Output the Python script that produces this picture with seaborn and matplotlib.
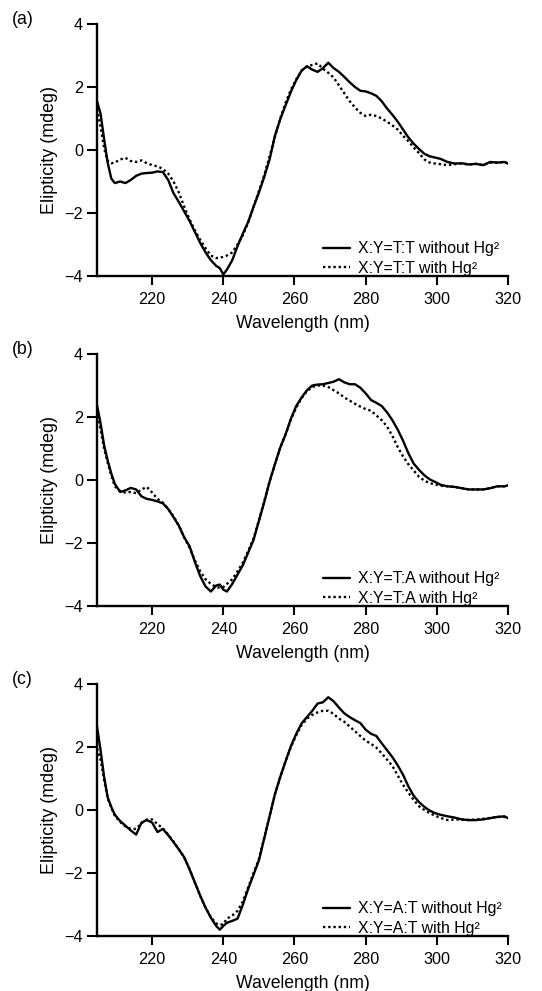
import numpy as np
import pandas as pd
import matplotlib
matplotlib.use("Agg")
import matplotlib.pyplot as plt
import seaborn as sns

sns.set_style("ticks")
plt.rcParams["font.family"] = ["Liberation Sans", "DejaVu Sans"]
plt.rcParams["axes.linewidth"] = 1.7
for key in ["text.color", "axes.labelcolor", "xtick.color", "ytick.color", "axes.edgecolor"]:
    plt.rcParams[key] = "black"

# wavelength grid (nm) shared by all curves
wavelength = [204.5, 205.5, 206.5, 207.5, 208.5, 209.5, 211, 212.5, 214, 215.5,
              217, 218.5, 220, 221.5, 223, 224.5, 226, 227.5, 229, 230.5,
              232, 233.5, 235, 236.5, 238, 239, 240, 241, 242.5, 244,
              245.5, 247, 248.5, 250, 251.5, 253, 254.5, 256, 257.5, 259,
              260.5, 262, 263.5, 265, 266.5, 268, 269.5, 271, 272.5, 274,
              275.5, 277, 278.5, 280, 281.5, 283, 284.5, 286, 287.5, 289,
              290.5, 292, 293.5, 295, 296.5, 298, 299.5, 301, 303, 305,
              307, 309, 311, 313, 315, 317, 319, 320]

tt_without = [1.55, 1.15, 0.35, -0.4, -0.9, -1.05, -1.0, -1.05, -0.95, -0.82,
              -0.75, -0.73, -0.72, -0.68, -0.7, -0.95, -1.37, -1.65, -1.95, -2.25,
              -2.6, -2.95, -3.25, -3.5, -3.68, -3.75, -3.95, -3.8, -3.5, -3.05,
              -2.65, -2.28, -1.8, -1.35, -0.85, -0.3, 0.45, 0.98, 1.42, 1.85,
              2.22, 2.52, 2.66, 2.55, 2.48, 2.6, 2.77, 2.6, 2.48, 2.32,
              2.15, 2.0, 1.88, 1.86, 1.8, 1.72, 1.55, 1.32, 1.12, 0.9,
              0.65, 0.4, 0.2, 0.03, -0.12, -0.2, -0.24, -0.28, -0.38, -0.43,
              -0.42, -0.46, -0.44, -0.48, -0.38, -0.4, -0.38, -0.43]
tt_with = [1.3, 0.75, 0.05, -0.35, -0.42, -0.4, -0.3, -0.25, -0.35, -0.38,
           -0.33, -0.42, -0.48, -0.52, -0.6, -0.75, -1.0, -1.35, -1.8, -2.2,
           -2.55, -2.85, -3.12, -3.35, -3.43, -3.42, -3.39, -3.35, -3.25, -3.0,
           -2.7, -2.3, -1.8, -1.3, -0.8, -0.2, 0.42, 1.0, 1.5, 1.92,
           2.25, 2.52, 2.65, 2.7, 2.75, 2.58, 2.45, 2.3, 2.05, 1.8,
           1.55, 1.35, 1.18, 1.08, 1.12, 1.08, 1.0, 0.9, 0.78, 0.65,
           0.45, 0.28, 0.08, -0.1, -0.3, -0.4, -0.43, -0.45, -0.48, -0.45,
           -0.43, -0.46, -0.44, -0.48, -0.4, -0.4, -0.38, -0.43]

ta_without = [2.38, 1.8, 1.1, 0.62, 0.21, -0.12, -0.38, -0.33, -0.25, -0.3,
              -0.52, -0.6, -0.63, -0.68, -0.74, -0.92, -1.18, -1.45, -1.82, -2.1,
              -2.6, -3.05, -3.38, -3.54, -3.35, -3.32, -3.48, -3.54, -3.3, -3.0,
              -2.7, -2.3, -1.9, -1.3, -0.7, -0.05, 0.5, 1.03, 1.45, 1.95,
              2.35, 2.62, 2.85, 3.0, 3.03, 3.04, 3.08, 3.12, 3.2, 3.1,
              3.04, 3.04, 2.93, 2.75, 2.54, 2.45, 2.35, 2.15, 1.9, 1.6,
              1.25, 0.85, 0.52, 0.32, 0.15, 0.02, -0.06, -0.15, -0.2, -0.22,
              -0.26, -0.3, -0.3, -0.3, -0.26, -0.2, -0.2, -0.17]
ta_with = [2.2, 1.6, 1.0, 0.55, 0.15, -0.2, -0.35, -0.4, -0.38, -0.42,
           -0.3, -0.22, -0.4, -0.6, -0.72, -0.92, -1.15, -1.45, -1.82, -2.15,
           -2.55, -2.9, -3.15, -3.3, -3.4, -3.42, -3.4, -3.3, -3.15, -2.9,
           -2.62, -2.25, -1.85, -1.28, -0.68, -0.05, 0.5, 1.03, 1.45, 1.92,
           2.3, 2.6, 2.82, 2.95, 3.0, 3.0, 2.95, 2.85, 2.75, 2.62,
           2.52, 2.42, 2.33, 2.25, 2.2, 2.05, 1.9, 1.7, 1.4, 1.05,
           0.75, 0.5, 0.3, 0.1, -0.02, -0.1, -0.14, -0.18, -0.2, -0.22,
           -0.26, -0.3, -0.3, -0.3, -0.26, -0.2, -0.2, -0.17]

at_without = [2.65, 1.9, 1.05, 0.4, 0.1, -0.15, -0.35, -0.5, -0.65, -0.78,
              -0.4, -0.32, -0.4, -0.7, -0.6, -0.8, -1.02, -1.25, -1.5, -1.88,
              -2.3, -2.72, -3.1, -3.42, -3.68, -3.8, -3.68, -3.58, -3.52, -3.45,
              -3.0, -2.5, -2.05, -1.6, -0.9, -0.2, 0.5, 1.05, 1.55, 2.03,
              2.42, 2.75, 2.95, 3.15, 3.38, 3.42, 3.58, 3.45, 3.25, 3.07,
              2.95, 2.85, 2.76, 2.55, 2.42, 2.35, 2.12, 1.9, 1.68, 1.42,
              1.12, 0.75, 0.45, 0.25, 0.1, -0.02, -0.1, -0.15, -0.2, -0.24,
              -0.3, -0.32, -0.32, -0.3, -0.26, -0.22, -0.2, -0.26]
at_with = [1.95, 1.6, 0.95, 0.38, 0.08, -0.18, -0.38, -0.52, -0.6, -0.6,
           -0.42, -0.3, -0.3, -0.45, -0.58, -0.78, -1.0, -1.25, -1.5, -1.88,
           -2.3, -2.72, -3.1, -3.4, -3.6, -3.65, -3.62, -3.45, -3.35, -3.2,
           -2.9, -2.45, -2.0, -1.55, -0.88, -0.2, 0.5, 1.05, 1.55, 2.0,
           2.38, 2.7, 2.9, 3.02, 3.1, 3.15, 3.15, 3.05, 2.9, 2.8,
           2.65, 2.5, 2.35, 2.2, 2.1, 1.98, 1.8, 1.6, 1.4, 1.1,
           0.8, 0.55, 0.32, 0.12, 0.0, -0.1, -0.18, -0.25, -0.32, -0.3,
           -0.3, -0.32, -0.3, -0.28, -0.25, -0.22, -0.22, -0.26]

panel_tags = ["(a)", "(b)", "(c)"]
pairs = ["T:T", "T:A", "A:T"]
curves = [(tt_without, tt_with), (ta_without, ta_with), (at_without, at_with)]

fig = plt.figure(figsize=(5.42, 9.91), dpi=100)
W, H = 542, 991
ax_left, ax_right = 97, 508
tops = [24, 354, 684]
ax_h = 252

for tag, pair, (wo, wi), top in zip(panel_tags, pairs, curves, tops):
    ax = fig.add_axes([ax_left / W, 1 - (top + ax_h) / H,
                       (ax_right - ax_left) / W, ax_h / H])
    lab_wo = f"X:Y={pair} without Hg²"
    lab_wi = f"X:Y={pair} with Hg²"
    n = len(wavelength)
    df = pd.DataFrame({
        "Wavelength": wavelength * 2,
        "Elipticity": wo + wi,
        "Condition": [lab_wo] * n + [lab_wi] * n,
    })
    sns.lineplot(data=df, x="Wavelength", y="Elipticity", style="Condition",
                 dashes={lab_wo: "", lab_wi: (1, 1.2)}, color="black",
                 linewidth=1.7, errorbar=None, legend=False, ax=ax)
    ax.set_xlim(204.5, 320)
    ax.set_ylim(-4, 4)
    ax.set_xticks([220, 240, 260, 280, 300, 320])
    ax.set_yticks([-4, -2, 0, 2, 4])
    ax.tick_params(axis="x", length=6.5, width=1.5, pad=5, labelsize=11.7)
    ax.tick_params(axis="y", length=7, width=1.5, pad=3, labelsize=11.7)
    ax.set_xlabel("Wavelength (nm)", fontsize=12.7, labelpad=6)
    ax.set_ylabel("Elipticity (mdeg)", fontsize=12.9, labelpad=5)
    sns.despine(ax=ax)
    ax.legend(ax.lines[:2], [lab_wo, lab_wi], loc="lower left",
              bbox_to_anchor=(0.55, 0.0), frameon=False, fontsize=11.4,
              handlelength=1.7, handletextpad=0.5, labelspacing=0.3,
              borderpad=0, borderaxespad=0)
    fig.text(12 / W, 1 - (top - 4) / H, tag, fontsize=12.7, va="center", ha="left")

fig.savefig("out.png", dpi=100)
